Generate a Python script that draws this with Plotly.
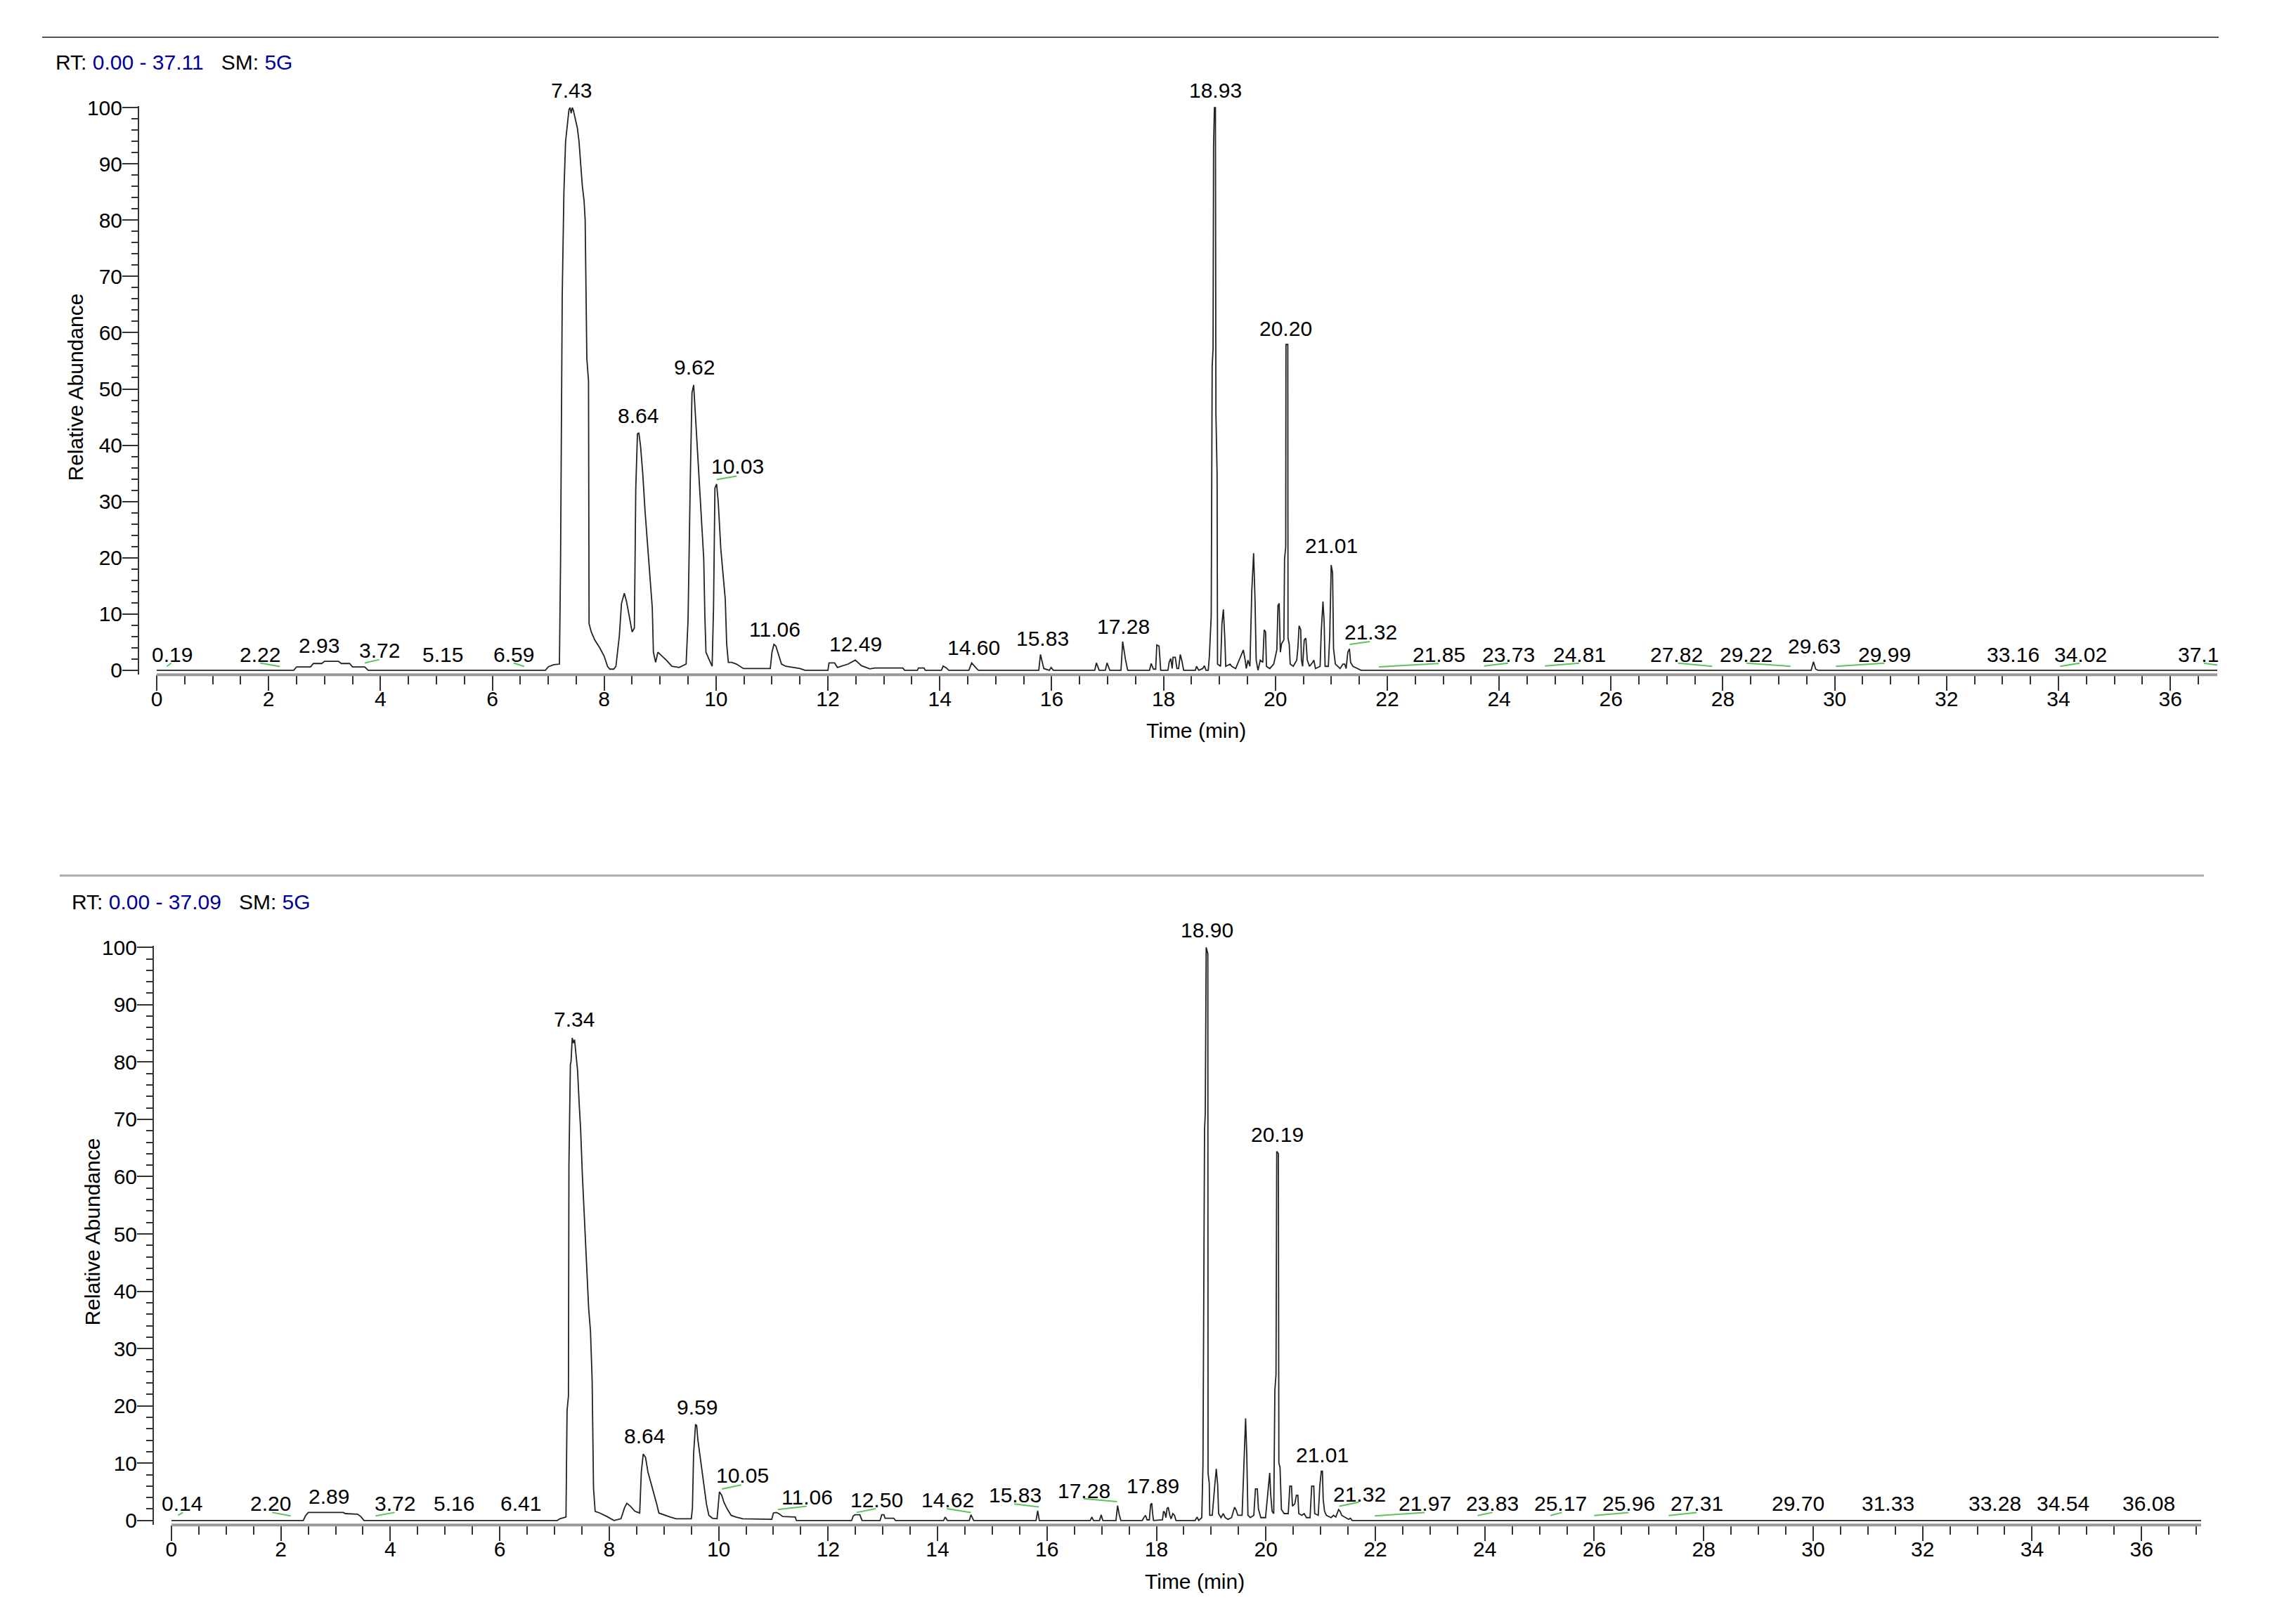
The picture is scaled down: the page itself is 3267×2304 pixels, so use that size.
import plotly.graph_objects as go

# page is 3267 x 2304; the browser body keeps its default 8px margin,
# so the figure is made 16px smaller and every pixel position is shifted by 8.
PAGE_W, PAGE_H = 3267, 2304
OFF = 8
FW, FH = PAGE_W - 2 * OFF, PAGE_H - 2 * OFF
# the captured picture comes out slightly squeezed vertically about the page centre;
# pre-compensate vertical pixel positions
VK, VC = 0.9887, PAGE_H / 2

# ---------------- DATA ----------------
top_t = [0, 2.45, 2.5, 2.75, 2.8, 2.95, 3.0, 3.25, 3.3, 3.45, 3.5, 3.72, 3.78,
         6.95, 7.0, 7.1, 7.2, 7.22, 7.25, 7.28, 7.31, 7.34, 7.37, 7.39, 7.41, 7.43, 7.45, 7.47,
         7.52, 7.55, 7.58, 7.61, 7.64, 7.66, 7.69, 7.72, 7.73, 7.77, 7.83, 7.92, 8.0, 8.06, 8.1,
         8.17, 8.21, 8.27, 8.31, 8.36, 8.40, 8.46, 8.50, 8.54, 8.565, 8.595, 8.62, 8.65, 8.69,
         8.73, 8.77, 8.82, 8.86, 8.88, 8.92, 8.96, 9.025, 9.11, 9.21, 9.34, 9.465, 9.50, 9.54,
         9.57, 9.60, 9.63, 9.67, 9.71, 9.75, 9.78, 9.80, 9.82, 9.88, 9.93, 9.955, 9.98, 10.01,
         10.04, 10.085, 10.13, 10.165, 10.19, 10.22, 10.28, 10.365, 10.49, 10.97, 11.0, 11.035,
         11.07, 11.13, 11.17, 11.25, 11.5, 11.59,
         12.0, 12.02, 12.12, 12.17, 12.36, 12.49, 12.6, 12.75, 12.84, 13.34, 13.37, 13.6, 13.62,
         13.72, 13.74, 14.03, 14.06, 14.12, 14.16, 14.52, 14.57, 14.65, 14.69, 15.77, 15.80,
         15.86, 15.96, 15.99, 16.03, 16.77, 16.80, 16.85, 16.96, 16.99, 17.04, 17.24, 17.27,
         17.32, 17.36, 17.75, 17.78, 17.82, 17.86, 17.88, 17.92, 17.95, 18.08, 18.10, 18.13,
         18.155, 18.17, 18.21, 18.24, 18.27, 18.30, 18.33, 18.36, 18.57, 18.59, 18.63, 18.70,
         18.73, 18.76, 18.80,
         18.82, 18.853, 18.87, 18.886, 18.895, 18.91, 18.928, 18.937, 18.958, 18.966, 19.02,
         19.045, 19.07, 19.096, 19.113, 19.19, 19.22, 19.29, 19.38, 19.427, 19.46, 19.48, 19.51,
         19.545, 19.578, 19.611, 19.636, 19.657, 19.69, 19.73, 19.775, 19.80, 19.825, 19.84,
         19.90, 19.97, 20.026, 20.047, 20.068, 20.089, 20.11, 20.152, 20.164, 20.185, 20.189,
         20.222, 20.226, 20.248, 20.265, 20.32, 20.382, 20.403, 20.424, 20.453, 20.466, 20.487,
         20.516, 20.545, 20.57, 20.61, 20.667, 20.688, 20.717, 20.80, 20.82, 20.851, 20.872,
         20.889, 20.947, 20.972, 20.998, 21.023, 21.04, 21.073, 21.157, 21.207, 21.24, 21.265,
         21.295, 21.324, 21.345, 21.387, 21.47, 21.53,
         29.58, 29.62, 29.66, 29.70, 37.11]
top_y = [0, 0, 0.6, 0.6, 1.2, 1.2, 1.6, 1.6, 1.2, 1.2, 0.6, 0.6, 0,
         0, 0.6, 1.0, 1.1, 19, 66.5, 85, 94, 97, 99.6, 100, 99, 100, 99.5, 98.6,
         96.4, 94, 90, 86, 83.5, 80, 55.4, 51.4, 8.3, 6.8, 5.4, 4, 2.5, 0.7, 0.2,
         0.2, 0.7, 6, 11.9, 13.7, 12.2, 9, 6.8, 7.5, 32.4, 42, 42.2, 39.9, 34.9,
         28.4, 23.4, 16.9, 11.1, 3.2, 1.4, 3.2, 2.6, 1.8, 0.7, 0.5, 1.1, 9, 34.2,
         49.3, 50.7, 45.7, 38.1, 31.6, 25.5, 19.8, 9.7, 3.2, 1.8, 0.7, 11.1, 32.4, 33.1,
         29.8, 21.6, 16.2, 12.6, 4.7, 1.4, 1.4, 1.1, 0.3, 0.3, 3.2, 4.6,
         4.3, 2.3, 1.1, 0.7, 0.3, 0,
         0, 1.3, 1.3, 0.5, 1.1, 1.8, 0.8, 0.25, 0.4, 0.4, 0, 0, 0.4,
         0.4, 0, 0, 0.75, 0.4, 0, 0, 1.3, 0.4, 0, 0, 2.8,
         0.3, 0, 0.5, 0, 0, 1.3, 0, 0, 1.3, 0, 0, 5.1,
         1.9, 0, 0, 1.2, 0.2, 0.2, 4.5, 4.3, 0, 0, 1.4, 2.1,
         0.3, 2.3, 2.3, 0.3, 0.3, 2.8, 1.6, 0, 0, 0.7, 0, 0.3,
         0.8, 0, 0,
         2.5, 9.7, 54, 57.2, 93.2, 100, 100, 45.7, 34.9, 1.1, 0.7,
         8.3, 10.8, 5.7, 0.7, 1.1, 0.7, 0.3, 2.5, 3.6, 1.8, 0.3, 1.8,
         0.7, 14, 20.8, 12.6, 1.8, 0, 1.8, 1.4, 7.2, 6.8, 0.7,
         0.3, 1.1, 3.6, 11.5, 11.9, 3.2, 4.7, 5.4, 19.8, 21.9, 57.9,
         57.9, 5.7, 4.6, 1.1, 0.7, 1.8, 4.0, 7.9, 7.2, 1.8, 0.7,
         5.4, 5.7, 1.8, 0.7, 1.4, 1.8, 0.3, 0.7, 6.8, 12.2, 8.6,
         0.7, 0.7, 6.1, 18.7, 17.3, 3.8, 1.1, 0.3, 1.1, 1.1, 0.3,
         3.2, 3.8, 1.4, 0.7, 0.3, 0,
         0, 1.5, 0.2, 0, 0]

bot_t = [0, 2.41, 2.45, 2.5, 3.14, 3.18, 3.40, 3.46, 3.52, 7.05, 7.10, 7.21, 7.23, 7.255,
         7.264, 7.29, 7.303, 7.324, 7.345, 7.367, 7.392, 7.422, 7.452, 7.478, 7.508, 7.538,
         7.564, 7.594, 7.624, 7.658, 7.688, 7.713, 7.743, 7.829, 7.958, 8.086, 8.215, 8.279,
         8.322, 8.386, 8.472, 8.557, 8.587, 8.622, 8.664, 8.707, 8.763, 8.814, 8.87, 8.908,
         8.964, 9.114, 9.221, 9.50, 9.521, 9.542, 9.577, 9.598, 9.62, 9.662, 9.705, 9.744,
         9.778, 9.821, 9.885, 9.971, 9.992, 10.014, 10.056, 10.099, 10.163, 10.228, 10.313,
         10.442, 10.97, 11.0, 11.05, 11.1, 11.17, 11.4, 11.42,
         12.43, 12.46, 12.49, 12.58, 12.62, 12.95, 12.98, 13.02, 13.04, 13.2, 13.23, 14.11,
         14.14, 14.18, 14.58, 14.61, 14.66, 15.80, 15.83, 15.86, 16.79, 16.82, 16.85, 16.96,
         16.99, 17.02, 17.26, 17.29, 17.32, 17.35,
         17.74, 17.77, 17.80, 17.83, 17.87, 17.894, 17.915, 17.93, 17.946, 18.11, 18.13,
         18.151, 18.173, 18.194, 18.215, 18.245, 18.267, 18.30, 18.33, 18.357, 18.707, 18.742,
         18.772, 18.828, 18.85, 18.879, 18.892, 18.909, 18.939, 18.943, 18.965, 18.974, 19.02,
         19.063, 19.093, 19.119, 19.136, 19.179, 19.222, 19.256, 19.307, 19.372, 19.427,
         19.457, 19.487, 19.565, 19.60, 19.629, 19.65, 19.672, 19.715, 19.779, 19.809, 19.843,
         19.864, 19.907, 19.993, 20.044, 20.07, 20.087, 20.113, 20.143, 20.164, 20.185,
         20.198, 20.228, 20.237, 20.258, 20.284, 20.335, 20.408, 20.438, 20.468, 20.485,
         20.528, 20.558, 20.584, 20.601, 20.657, 20.70, 20.742, 20.807, 20.837, 20.875,
         20.892, 20.956, 20.986, 21.012, 21.033, 21.047, 21.072, 21.106, 21.192, 21.235,
         21.278, 21.329, 21.355, 21.385, 21.449, 21.513, 21.543, 21.577, 37.09]
bot_y = [0, 0, 0.8, 1.4, 1.4, 1.2, 1.1, 0.7, 0, 0, 0.3, 0.6, 19.2, 21.7,
         61.9, 79.5, 80.1, 84.2, 83.3, 83.9, 81.4, 78.5, 72.6, 68.2, 60.6, 54.4,
         48.4, 42.4, 37.1, 33, 24.5, 5.7, 1.6, 1.3, 0.7, 0, 0.3, 2.2,
         3.0, 2.5, 1.6, 1.3, 8.5, 11.6, 11.0, 8.5, 6.6, 4.7, 2.8, 1.3,
         1.1, 0.6, 0.3, 0.3, 2.2, 11.6, 16.7, 16.6, 14.1, 11, 7.9, 5.3,
         2.8, 0.9, 0.4, 0.3, 2.2, 5.0, 4.4, 3.1, 1.9, 0.9, 0.6,
         0.3, 0.2, 1.3, 1.4, 1.2, 0.7, 0.6, 0,
         0, 0.8, 1.0, 1.0, 0, 0, 1.0, 1.0, 0.4, 0.4, 0, 0,
         0.6, 0, 0, 1.0, 0, 0, 1.7, 0, 0, 0.6, 0, 0,
         1.0, 0, 0, 2.6, 1.0, 0,
         0, 0.5, 0.9, 0.1, 0.1, 2.8, 3.0, 1.2, 0, 0.1, 1.6,
         1.4, 0.5, 2.1, 2.3, 0.9, 0.3, 1.2, 0.9, 0, 0, 0.6,
         0, 0.5, 9.7, 68.2, 71, 100, 98.9, 8.3, 6.5, 0.9, 0.9,
         5.8, 9, 6.2, 1.2, 0.5, 1.2, 0.5, 0.2, 0.5, 2.3,
         1.8, 0.9, 0.9, 10.7, 17.8, 11.8, 0.9, 0.5, 0.9, 5.5, 5.5,
         2.0, 0.5, 0.5, 6.1, 8.3, 4.7, 1.6, 1.2, 22.7, 25.5,
         64.4, 64.0, 10.0, 9.3, 1.9, 1.2, 1.2, 6.0, 6.0, 2.5,
         2.9, 4.4, 4.4, 1.2, 0.9, 1.2, 0.5, 0.5, 6.0, 6.0,
         1.2, 0.9, 6.1, 8.6, 8.6, 3.7, 1.6, 0.9, 0.5, 0.9,
         0.6, 1.9, 1.6, 0.9, 0.5, 0.2, 0.4, 0, 0]

# peak labels: text, label time, label abundance
top_labels = [("0.19", 0.28, 2.8), ("2.22", 1.85, 2.8), ("2.93", 2.90, 4.4), ("3.72", 3.98, 3.5),
              ("5.15", 5.12, 2.8), ("6.59", 6.38, 2.8), ("7.43", 7.41, 103.1), ("8.64", 8.61, 45.3),
              ("9.62", 9.61, 53.9), ("10.03", 10.39, 36.2), ("11.06", 11.05, 7.3), ("12.49", 12.49, 4.7),
              ("14.60", 14.61, 4.1), ("15.83", 15.84, 5.7), ("17.28", 17.28, 7.8), ("18.93", 18.93, 103.1),
              ("20.20", 20.19, 60.7), ("21.01", 21.00, 22.1), ("21.32", 21.71, 6.75), ("21.85", 22.92, 2.75),
              ("23.73", 24.17, 2.75), ("24.81", 25.44, 2.75), ("27.82", 27.17, 2.75), ("29.22", 28.42, 2.75),
              ("29.63", 29.64, 4.3), ("29.99", 30.89, 2.75), ("33.16", 33.19, 2.75), ("34.02", 34.39, 2.75)]
top_edge_label = ("37.1", 36.11, 2.75)
top_leaders = [(0.18, 0.67, 0.26, 1.3), (1.85, 1.3, 2.20, 0.67), (3.72, 1.3, 3.98, 1.9),
               (6.38, 1.3, 6.57, 0.67), (10.01, 33.9, 10.37, 34.5), (21.33, 4.6, 21.69, 5.1),
               (21.85, 0.6, 22.92, 1.2), (23.73, 0.75, 24.16, 1.25), (24.82, 0.75, 25.43, 1.25),
               (27.2, 1.25, 27.81, 0.7), (28.42, 1.25, 29.21, 0.7), (30.02, 0.7, 30.89, 1.25),
               (34.03, 0.7, 34.38, 1.25), (36.6, 1.25, 36.85, 0.9)]

bot_labels = [("0.14", 0.19, 3.0), ("2.20", 1.81, 3.0), ("2.89", 2.88, 4.2), ("3.72", 4.08, 3.0),
              ("5.16", 5.16, 3.0), ("6.41", 6.38, 3.0), ("7.34", 7.36, 87.4), ("8.64", 8.64, 14.8),
              ("9.59", 9.61, 19.8), ("10.05", 10.43, 7.9), ("11.06", 11.62, 4.1), ("12.50", 12.89, 3.6),
              ("14.62", 14.18, 3.6), ("15.83", 15.42, 4.5), ("17.28", 16.68, 5.2), ("17.89", 17.94, 6.0),
              ("18.90", 18.92, 103.0), ("20.19", 20.21, 67.3), ("21.01", 21.03, 11.4), ("21.32", 21.71, 4.6),
              ("21.97", 22.90, 3.0), ("23.83", 24.14, 3.0), ("25.17", 25.38, 3.0), ("25.96", 26.63, 3.0),
              ("27.31", 27.87, 3.0), ("29.70", 29.73, 3.0), ("31.33", 31.37, 3.0), ("33.28", 33.32, 3.0),
              ("34.54", 34.57, 3.0), ("36.08", 36.13, 3.0)]
bot_leaders = [(0.12, 0.9, 0.21, 1.4), (1.84, 1.4, 2.18, 0.8), (3.73, 0.8, 4.08, 1.4),
               (10.06, 5.5, 10.41, 6.2), (11.08, 1.9, 11.61, 2.5), (12.52, 1.4, 12.87, 2.05),
               (14.17, 2.05, 14.61, 1.4), (15.40, 2.9, 15.85, 2.37), (16.67, 3.8, 17.28, 3.3),
               (21.34, 2.5, 21.70, 3.2), (21.99, 0.8, 22.90, 1.4), (23.87, 0.86, 24.14, 1.4),
               (25.20, 0.86, 25.41, 1.4), (26.0, 0.86, 26.63, 1.4), (27.36, 0.86, 27.87, 1.4)]

top_header = ("0.00 - 37.11", "5G")
bot_header = ("0.00 - 37.09", "5G")

# ---------------- FIGURE ----------------
FONT = "Arial, 'Liberation Sans', sans-serif"
FS = 30
TRACE_COLOR = "#222222"
GREEN = "#5cc45c"
NAVY = "#000099"
Y_LO, Y_HI = -0.8, 100.3


def PX(x):
    return (x - OFF) / FW


def PY(y):
    y = VC + (y - VC) / VK
    return 1 - (y - OFF) / FH


fig = go.Figure()
fig.add_trace(go.Scatter(x=top_t, y=top_y, mode="lines", line=dict(color=TRACE_COLOR, width=1.8),
                         xaxis="x", yaxis="y", showlegend=False, hoverinfo="skip"))
fig.add_trace(go.Scatter(x=bot_t, y=bot_y, mode="lines", line=dict(color=TRACE_COLOR, width=1.8),
                         xaxis="x2", yaxis="y2", showlegend=False, hoverinfo="skip"))


def xax(domain, rng, anchor):
    return dict(domain=domain, range=rng, anchor=anchor, showgrid=False, zeroline=False,
                showline=False, ticks="outside", ticklen=22, tickwidth=2, tickcolor="#333",
                tick0=0, dtick=2, ticklabelstandoff=-14,
                tickfont=dict(family=FONT, size=FS, color="black"),
                minor=dict(dtick=0.5, tick0=0, ticks="outside", ticklen=13, tickwidth=2,
                           tickcolor="#333", showgrid=False))


def yax(domain, anchor):
    return dict(domain=domain, range=[Y_LO, Y_HI], anchor=anchor, showgrid=False, zeroline=False,
                showline=True, linecolor="#333", linewidth=2, ticks="outside", ticklen=22,
                tickwidth=2, tickcolor="#333", tick0=0, dtick=10, ticklabelstandoff=-6,
                tickfont=dict(family=FONT, size=FS, color="black"),
                minor=dict(dtick=2, tick0=0, ticks="outside", ticklen=9, tickwidth=2,
                           tickcolor="#333", showgrid=False))


fig.update_layout(
    width=FW, height=FH, margin=dict(l=0, r=0, t=0, b=0),
    paper_bgcolor="white", plot_bgcolor="white",
    font=dict(family=FONT, size=FS, color="black"),
    xaxis=xax([PX(198), PX(3155)], [-0.314, 36.84], "y"),
    yaxis=yax([PY(958.4), PY(149.6)], "x"),
    xaxis2=xax([PX(219), PX(3132)], [-0.32, 37.09], "y2"),
    yaxis2=yax([PY(2167.5), PY(1343.6)], "x2"),
)

ann = []
shapes = []


def ydom(a):
    return (a - Y_LO) / (Y_HI - Y_LO)


def add_panel(labels, leaders, xr, yr, header, hx, hy, ylab_x, ylab_y, xlab_x, xlab_y, xmax):
    for txt, t, a in labels:
        ann.append(dict(text=txt, x=t, y=ydom(a), xref=xr, yref=yr + " domain", showarrow=False,
                        xanchor="center", yanchor="middle", font=dict(size=FS, color="black")))
    for x0, y0, x1, y1 in leaders:
        shapes.append(dict(type="line", xref=xr, yref=yr, x0=x0, y0=y0, x1=x1, y1=y1,
                           line=dict(color=GREEN, width=2)))
    shapes.append(dict(type="line", xref=xr, yref=yr + " domain", x0=0, x1=xmax, y0=0, y1=0,
                       line=dict(color="#9a9a9a", width=4)))
    ann.append(dict(text=f"RT: <span style='color:{NAVY}'>{header[0]}</span>"
                         f"&nbsp;&nbsp;&nbsp;SM: <span style='color:{NAVY}'>{header[1]}</span>",
                    x=PX(hx), y=PY(hy), xref="paper", yref="paper", showarrow=False,
                    xanchor="left", yanchor="middle", font=dict(size=FS, color="black")))
    ann.append(dict(text="Relative Abundance", x=PX(ylab_x), y=PY(ylab_y), xref="paper", yref="paper",
                    showarrow=False, textangle=-90, xanchor="center", yanchor="middle",
                    font=dict(size=FS, color="black")))
    ann.append(dict(text="Time (min)", x=PX(xlab_x), y=PY(xlab_y), xref="paper", yref="paper",
                    showarrow=False, xanchor="center", yanchor="middle",
                    font=dict(size=FS, color="black")))


add_panel(top_labels, top_leaders, "x", "y", top_header, 77, 87, 108, 550, 1702, 1038, 36.84)
ann.append(dict(text=top_edge_label[0], x=top_edge_label[1], y=ydom(top_edge_label[2]),
                xref="x", yref="y domain", showarrow=False, xanchor="left", yanchor="middle",
                font=dict(size=FS, color="black")))
add_panel(bot_labels, bot_leaders, "x2", "y2", bot_header, 100, 1281, 131, 1750, 1700, 2248, 37.09)

shapes.append(dict(type="line", xref="paper", yref="paper", x0=PX(60), x1=PX(3157),
                   y0=PY(52), y1=PY(52), line=dict(color="#555555", width=2)))
shapes.append(dict(type="line", xref="paper", yref="paper", x0=PX(85), x1=PX(3136),
                   y0=PY(1244), y1=PY(1244), line=dict(color="#aaaaaa", width=3)))

fig.update_layout(annotations=ann, shapes=shapes)

fig.write_html("out.html", config={"displayModeBar": False})
